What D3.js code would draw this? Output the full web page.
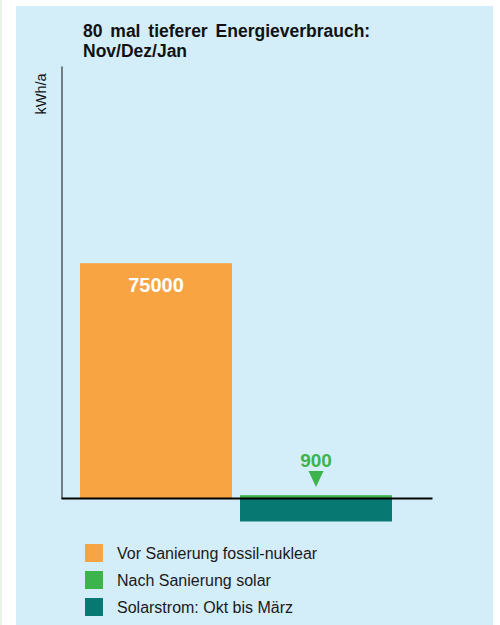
<!DOCTYPE html>
<html>
<head>
<meta charset="utf-8">
<script src="https://cdn.jsdelivr.net/npm/d3@7"></script>
<style>
  body { margin: 0; background: #fff; }
  svg { display: block; font-family: "Liberation Sans", Arial, sans-serif; }
</style>
</head>
<body>
<div id="chart"></div>
<script>
// data
const categories = ["Vorher", "Nachher"];
const seriesNames = ["Vor Sanierung fossil-nuklear", "Nach Sanierung solar", "Solarstrom: Okt bis März"];
const seriesValues = [75000, 900, -7500];
const seriesCategory = ["Vorher", "Nachher", "Nachher"];
const seriesColors = ["#f9a443", "#3db34b", "#077872"];
const titleLines = ["80 mal tieferer Energieverbrauch:", "Nov/Dez/Jan"];
const yMax = 138000;

const width = 500, height = 625;

const svg = d3.select("#chart").append("svg")
  .attr("width", width).attr("height", height);

// background
svg.append("rect").attr("x", 0).attr("y", 0).attr("width", 2).attr("height", height).attr("fill", "#e8f4e6");
svg.append("rect").attr("x", 16).attr("y", 6).attr("width", 477).attr("height", height - 6).attr("fill", "#d3edf9");

const x = d3.scaleBand().domain(categories).range([80, 392]).paddingInner(0.05).paddingOuter(0);
const y = d3.scaleLinear().domain([0, yMax]).range([498, 66]);

// title
svg.append("g").selectAll("text")
  .data(titleLines)
  .enter().append("text")
  .attr("x", 83)
  .attr("y", (d, i) => 37 + i * 20)
  .attr("font-size", 17.5)
  .attr("font-weight", "bold")
  .attr("word-spacing", 3)
  .attr("fill", "#111")
  .text(d => d);

// y label
svg.append("text")
  .attr("transform", "translate(46,94) rotate(-90)")
  .attr("text-anchor", "middle")
  .attr("font-size", 14.5)
  .attr("fill", "#111")
  .text("kWh/a");

// bars
svg.append("g").selectAll("rect")
  .data(seriesValues)
  .enter().append("rect")
  .attr("x", (d, i) => x(seriesCategory[i]))
  .attr("width", x.bandwidth())
  .attr("y", d => y(Math.max(0, d)))
  .attr("height", d => Math.abs(y(d) - y(0)))
  .attr("fill", (d, i) => seriesColors[i]);

// axes
const yAxis = svg.append("g")
  .attr("transform", "translate(61.5,0)")
  .call(d3.axisLeft(y).tickValues([]).tickSizeOuter(0));
yAxis.select(".domain").attr("stroke", "#333").attr("stroke-width", 1.2);

const xLine = d3.scaleLinear().domain([0, 1]).range([61, 432]);
const xAxis = svg.append("g")
  .attr("transform", `translate(0,${y(0)})`)
  .call(d3.axisBottom(xLine).tickValues([]).tickSizeOuter(0));
xAxis.select(".domain").attr("stroke", "#000").attr("stroke-width", 2);

// value labels
svg.append("text")
  .attr("x", x("Vorher") + x.bandwidth() / 2)
  .attr("y", y(seriesValues[0]) + 29)
  .attr("text-anchor", "middle")
  .attr("font-size", 20)
  .attr("font-weight", "bold")
  .attr("fill", "#fff")
  .text(d3.format("d")(seriesValues[0]));

const cx = x("Nachher") + x.bandwidth() / 2;
svg.append("text")
  .attr("x", cx)
  .attr("y", 467)
  .attr("text-anchor", "middle")
  .attr("font-size", 19)
  .attr("font-weight", "bold")
  .attr("fill", seriesColors[1])
  .text(seriesValues[1]);

svg.append("path")
  .attr("d", d3.line()([[cx - 7.5, 471], [cx + 7.5, 471], [cx, 487]]) + "Z")
  .attr("fill", seriesColors[1]);

// legend
const legend = svg.append("g").selectAll("g")
  .data(seriesNames)
  .enter().append("g")
  .attr("transform", (d, i) => `translate(85,${544 + i * 27})`);

legend.append("rect")
  .attr("width", 18).attr("height", 18)
  .attr("fill", (d, i) => seriesColors[i]);

legend.append("text")
  .attr("x", 32)
  .attr("y", 15)
  .attr("font-size", 16)
  .attr("fill", "#1a1a1a")
  .text(d => d);
</script>
</body>
</html>
